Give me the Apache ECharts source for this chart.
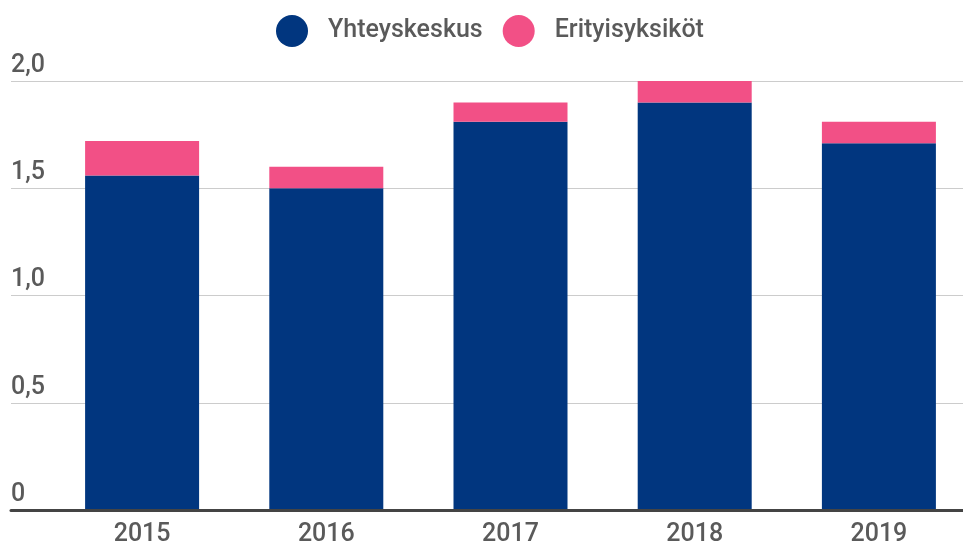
<!DOCTYPE html>
<html>
<head>
<meta charset="utf-8">
<style>
  html, body { margin: 0; padding: 0; background: #fff; overflow: hidden; }
  /* chart is a bit wider than the window: the last band runs past the right edge */
  #chart { width: 971px; height: 544px; }
</style>
<script src="https://cdn.jsdelivr.net/npm/echarts@6/dist/echarts.min.js"></script>
</head>
<body>
<div id="chart"></div>
<script>
var years = ["2015", "2016", "2017", "2018", "2019"];
var yhteyskeskus = [1.56, 1.50, 1.81, 1.90, 1.71];
var erityisyksikot = [0.16, 0.10, 0.09, 0.10, 0.10];
var yTickLabels = ["0", "0,5", "1,0", "1,5", "2,0"];

var textColor = "#5a5a5a";
var font = "Roboto";

var chart = echarts.init(document.getElementById("chart"));

chart.setOption({
  animation: false,
  legend: {
    data: ["Yhteyskeskus", "Erityisyksiköt"],
    left: 271,
    top: 10,
    icon: "circle",
    itemWidth: 32,
    itemHeight: 32,
    itemGap: 20,
    textStyle: {
      color: textColor,
      fontFamily: font,
      fontSize: 25,
      fontWeight: 500,
      padding: [0, 0, 0, 15]
    }
  },
  grid: [
    // gridlines and axis line
    { left: 11, right: 8, top: 81, bottom: 34, outerBoundsMode: "none" },
    // bars
    { left: 50, right: 0, top: 81, bottom: 34, outerBoundsMode: "none" }
  ],
  xAxis: [
    {
      gridIndex: 0,
      type: "category",
      data: years,
      z: 10,
      axisLine: { lineStyle: { color: "#444", width: 3 } },
      axisTick: { show: false },
      axisLabel: { show: false }
    },
    {
      gridIndex: 1,
      type: "category",
      data: years,
      axisLine: { show: false },
      axisTick: { show: false },
      axisLabel: {
        margin: 12,
        color: textColor,
        fontFamily: font,
        fontSize: 25,
        fontWeight: 500
      }
    }
  ],
  yAxis: [
    {
      gridIndex: 0,
      type: "value",
      min: 0,
      max: 2,
      interval: 0.5,
      axisLine: { show: false },
      axisTick: { show: false },
      splitLine: { lineStyle: { color: "#cccccc", width: 1 } },
      axisLabel: {
        inside: true,
        margin: 0,
        verticalAlign: "bottom",
        padding: [0, 0, 3, 0],
        color: textColor,
        fontFamily: font,
        fontSize: 25,
        fontWeight: 500,
        formatter: function (v, i) { return yTickLabels[i]; }
      }
    },
    {
      gridIndex: 1,
      type: "value",
      min: 0,
      max: 2,
      interval: 0.5,
      show: false,
      splitLine: { show: false }
    }
  ],
  series: [
    {
      name: "Yhteyskeskus",
      type: "bar",
      stack: "total",
      xAxisIndex: 1,
      yAxisIndex: 1,
      barWidth: 114,
      itemStyle: { color: "#01367f" },
      data: yhteyskeskus
    },
    {
      name: "Erityisyksiköt",
      type: "bar",
      stack: "total",
      xAxisIndex: 1,
      yAxisIndex: 1,
      barWidth: 114,
      itemStyle: { color: "#f25086" },
      data: erityisyksikot
    }
  ]
});
</script>
</body>
</html>
